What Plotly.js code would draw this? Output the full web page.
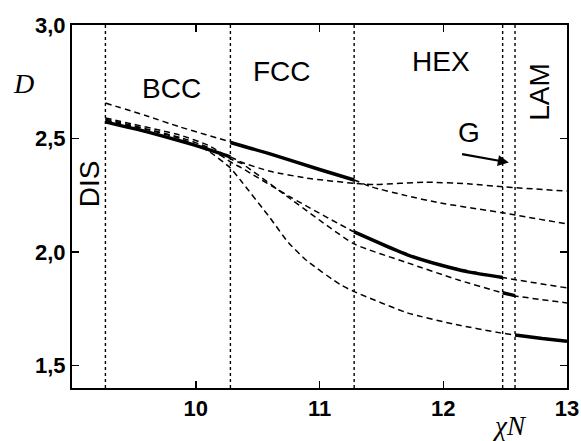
<!DOCTYPE html>
<html>
<head>
<meta charset="utf-8">
<script src="https://cdn.plot.ly/plotly-3.0.1.min.js"></script>
<style>html,body{margin:0;padding:0;background:#fff;}</style>
</head>
<body>
<div id="chart" style="width:581px;height:441px;"></div>
<script>
// Phase boundaries (chi N)
const boundaries = [9.27, 10.28, 11.28, 12.48, 12.58];

// Dashed (metastable) curves D(chiN)
const fccX = [9.27, 9.6, 9.87, 10.28, 10.6, 11.0, 11.28, 11.41, 11.7, 11.97, 12.48, 13.0];
const fccY = [2.656, 2.60, 2.551, 2.485, 2.432, 2.363, 2.317, 2.288, 2.248, 2.216, 2.172, 2.123];
const bccX = [9.27, 9.87, 10.28, 10.37, 10.6, 10.9, 11.28, 11.45, 11.85, 12.2, 12.5, 13.0];
const bccY = [2.573, 2.49, 2.419, 2.395, 2.355, 2.325, 2.302, 2.297, 2.307, 2.300, 2.286, 2.268];
const hexX = [9.27, 9.87, 10.1, 10.3, 10.37, 10.77, 11.28, 11.71, 11.97, 12.48, 13.0];
const hexY = [2.585, 2.505, 2.46, 2.39, 2.37, 2.24, 2.088, 1.987, 1.943, 1.887, 1.841];
const gyrX = [9.27, 9.87, 10.1, 10.3, 10.37, 10.77, 11.28, 11.71, 12.1, 12.48, 12.58, 13.0];
const gyrY = [2.59, 2.515, 2.47, 2.405, 2.39, 2.232, 2.035, 1.952, 1.88, 1.819, 1.806, 1.775];
const lamX = [9.27, 9.6, 9.87, 10.1, 10.28, 10.37, 10.6, 10.75, 10.9, 11.17, 11.28, 11.71, 12.1, 12.46, 12.58, 13.0];
const lamY = [2.58, 2.54, 2.50, 2.445, 2.37, 2.31, 2.15, 2.04, 1.96, 1.855, 1.825, 1.731, 1.68, 1.643, 1.634, 1.606];

// Solid (stable) segments
const bccSolidX = [9.27, 9.6, 9.87, 10.1, 10.28];
const bccSolidY = [2.573, 2.53, 2.49, 2.452, 2.419];
const fccSolidX = [10.28, 10.6, 11.0, 11.28];
const fccSolidY = [2.482, 2.432, 2.363, 2.317];
const hexSolidX = [11.28, 11.5, 11.71, 11.97, 12.2, 12.48];
const hexSolidY = [2.088, 2.035, 1.987, 1.943, 1.912, 1.887];
const gyrSolidX = [12.48, 12.58];
const gyrSolidY = [1.82, 1.807];
const lamSolidX = [12.58, 12.8, 13.0];
const lamSolidY = [1.634, 1.618, 1.606];

// Axis ticks
const xTickVals = [10, 11, 12, 13];
const xTickText = ['10', '11', '12', '13'];
const yTickVals = [1.5, 2.0, 2.5, 3.0];
const yTickText = ['1,5', '2,0', '2,5', '3,0'];

// Phase labels
const phaseLabels = ['BCC', 'FCC', 'HEX', 'LAM', 'DIS', 'G'];
const phaseLabelX = [9.80, 10.70, 11.98, 12.78, 9.14, 12.21];
const phaseLabelY = [2.722, 2.797, 2.837, 2.705, 2.30, 2.524];
const phaseLabelAngle = [0, 0, 0, -90, -90, 0];

const traces = [];
const dashStyle = {color: 'black', width: 1.5, dash: '6px,4px', shape: 'spline', smoothing: 0.5};
const solidStyle = {color: 'black', width: 3.5, shape: 'spline', smoothing: 0.5};

boundaries.forEach(b => {
  traces.push({x: [b, b], y: [1.4, 3.0], mode: 'lines', line: {color: 'black', width: 1.4, dash: 'dot'}, hoverinfo: 'skip'});
});
[[fccX, fccY], [bccX, bccY], [hexX, hexY], [gyrX, gyrY], [lamX, lamY]].forEach(([x, y]) => {
  traces.push({x: x, y: y, mode: 'lines', line: dashStyle});
});
[[bccSolidX, bccSolidY], [fccSolidX, fccSolidY], [hexSolidX, hexSolidY], [gyrSolidX, gyrSolidY], [lamSolidX, lamSolidY]].forEach(([x, y]) => {
  traces.push({x: x, y: y, mode: 'lines', line: solidStyle});
});

const labelFont = {family: 'Liberation Sans, Arial, sans-serif', size: 28, color: 'black'};
const annotations = phaseLabels.map((t, i) => ({
  x: phaseLabelX[i], y: phaseLabelY[i], xref: 'x', yref: 'y', text: t,
  xanchor: 'center', yanchor: 'middle',
  showarrow: false, textangle: phaseLabelAngle[i], font: labelFont
}));
annotations.push({
  x: 12.53, y: 2.394, ax: 12.14, ay: 2.432, xref: 'x', yref: 'y', axref: 'x', ayref: 'y',
  text: '', showarrow: true, arrowhead: 2, arrowsize: 1, arrowwidth: 2.2, arrowcolor: 'black'
});
annotations.push({
  x: -0.097, y: 0.84, xref: 'paper', yref: 'paper', text: '<i>D</i>', showarrow: false,
  xanchor: 'center', yanchor: 'middle',
  font: {family: 'Liberation Serif, Times New Roman, serif', size: 28, color: 'black'}
});
annotations.push({
  x: 0.883, y: -0.105, xref: 'paper', yref: 'paper', text: '<i>χN</i>', showarrow: false,
  xanchor: 'center', yanchor: 'middle',
  font: {family: 'Liberation Serif, Times New Roman, serif', size: 27, color: 'black'}
});

const axisCommon = {
  showgrid: false, zeroline: false, showline: true, linecolor: 'black', linewidth: 2,
  mirror: 'ticks', ticks: 'inside', ticklen: 7, tickwidth: 1.5, tickcolor: 'black',
  tickfont: {family: 'Liberation Sans, Arial, sans-serif', size: 22, color: 'black', weight: 'bold'}
};

const layout = {
  width: 581, height: 441,
  margin: {l: 72, r: 14, t: 25, b: 53},
  paper_bgcolor: 'white', plot_bgcolor: 'white',
  showlegend: false,
  xaxis: Object.assign({}, axisCommon, {range: [9, 13], tickmode: 'array', tickvals: xTickVals, ticktext: xTickText}),
  yaxis: Object.assign({}, axisCommon, {range: [1.4, 3.0], tickmode: 'array', tickvals: yTickVals, ticktext: yTickText}),
  annotations: annotations
};

Plotly.newPlot('chart', traces, layout, {staticPlot: true, displayModeBar: false});
</script>
</body>
</html>
